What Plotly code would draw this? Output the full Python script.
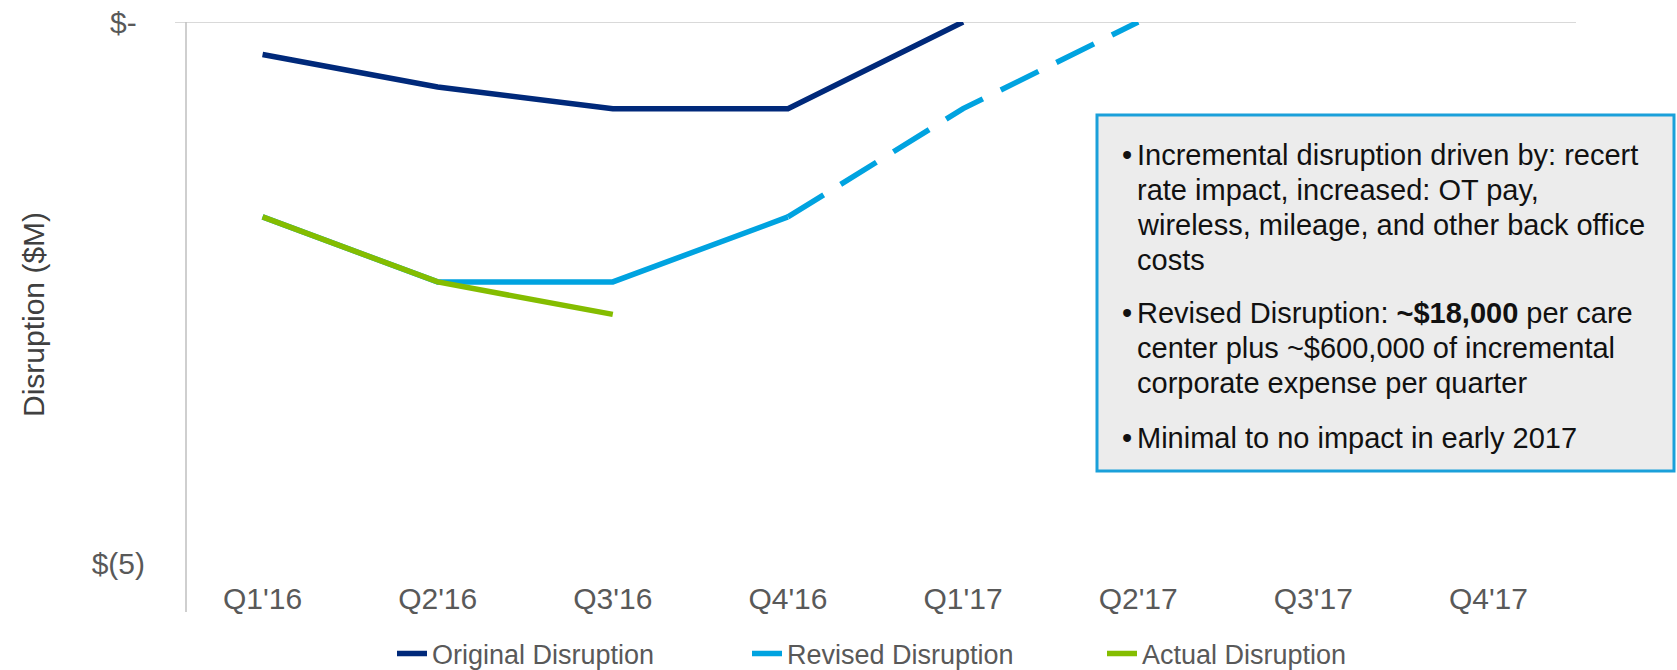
import plotly.graph_objects as go

# ---- data ----
categories = ["Q1'16", "Q2'16", "Q3'16", "Q4'16", "Q1'17", "Q2'17", "Q3'17", "Q4'17"]
original = [-0.3, -0.6, -0.8, -0.8, 0.0, None, None, None]
revised = [-1.8, -2.4, -2.4, -1.8, -0.8, 0.0, None, None]
actual = [-1.8, -2.4, -2.7, None, None, None, None, None]
revised_solid_end = 3  # Q4'16: revised line is solid up to here, dashed after
y_tick_vals = [0, -5]
y_tick_text = ["$-\u00a0", "$(5)"]

box_lines = [
    ["Incremental disruption driven by: recert", "rate impact, increased: OT pay,",
     "wireless, mileage, and other back office", "costs"],
    ["Revised Disruption: <b>~$18,000</b> per care", "center plus ~$600,000 of incremental",
     "corporate expense per quarter"],
    ["Minimal to no impact in early 2017"],
]

FONT = "Liberation Sans, Arial, sans-serif"
NAVY = "#00297A"
BLUE = "#00A3E0"
GREEN = "#84BD00"

W, H = 1677, 670
L, R, T, B = 175, 101, 22, 98
PW, PH = W - L - R, H - T - B
PX_PER_UNIT = 108.3


def px_x(px):
    return (px - L) / PW


def px_y(py):
    return (H - B - py) / PH


fig = go.Figure()
fig.add_trace(go.Scatter(x=categories, y=original, mode="lines", name="Original Disruption",
                         line=dict(color=NAVY, width=5.5), connectgaps=False))
fig.add_trace(go.Scatter(x=categories[:revised_solid_end + 1], y=revised[:revised_solid_end + 1],
                         mode="lines", name="Revised Disruption", legendgroup="rev",
                         showlegend=False, line=dict(color=BLUE, width=5.5)))
fig.add_trace(go.Scatter(x=categories[revised_solid_end:], y=revised[revised_solid_end:],
                         mode="lines", name="Revised Disruption", legendgroup="rev",
                         line=dict(color=BLUE, width=5.5, dash="42px,20px")))
fig.add_trace(go.Scatter(x=categories, y=actual, mode="lines", name="Actual Disruption",
                         line=dict(color=GREEN, width=5.5)))

shapes = [
    # horizontal axis line at $0
    dict(type="line", xref="paper", yref="y", x0=0, x1=1, y0=0, y1=0,
         line=dict(color="#D9D9D9", width=2), layer="below"),
    # vertical axis line
    dict(type="line", xref="paper", yref="paper", x0=px_x(186), x1=px_x(186),
         y0=px_y(612), y1=1, line=dict(color="#BFBFBF", width=1.5), layer="below"),
    # annotation box
    dict(type="rect", xref="paper", yref="paper", x0=px_x(1097), x1=px_x(1674),
         y0=px_y(471), y1=px_y(115), fillcolor="#ECECEC",
         line=dict(color="#1AA0DA", width=3), layer="above"),
]

annotations = [
    dict(text="Disruption ($M)", xref="paper", yref="paper", x=px_x(33), y=px_y(315),
         textangle=-90, showarrow=False, font=dict(family=FONT, size=30, color="#404040"),
         xanchor="center", yanchor="middle"),
]

line_y = [[155, 190, 225, 260], [313, 348, 383], [438]]
for para, ys in zip(box_lines, line_y):
    annotations.append(dict(text="•", xref="paper", yref="paper", x=px_x(1120), y=px_y(ys[0]),
                            showarrow=False, xanchor="left", yanchor="middle",
                            font=dict(family=FONT, size=29, color="#111111")))
    for txt, yy in zip(para, ys):
        annotations.append(dict(text=txt, xref="paper", yref="paper", x=px_x(1135), y=px_y(yy),
                                showarrow=False, xanchor="left", yanchor="middle",
                                font=dict(family=FONT, size=29, color="#111111")))

fig.update_layout(
    width=W, height=H,
    margin=dict(l=L, r=R, t=T, b=B, pad=0, autoexpand=False),
    paper_bgcolor="white", plot_bgcolor="white",
    font=dict(family=FONT, color="#595959"),
    showlegend=True,
    legend=dict(orientation="h", x=px_x(392), y=px_y(654), xanchor="left", yanchor="middle",
                font=dict(family=FONT, size=27, color="#595959"),
                entrywidth=310, entrywidthmode="pixels", bgcolor="rgba(0,0,0,0)"),
    xaxis=dict(type="category", categoryorder="array", categoryarray=categories,
               range=[-0.5, 7.5], showgrid=False, zeroline=False, showline=False,
               ticks="", tickfont=dict(family=FONT, size=30, color="#595959"),
               ticklabelstandoff=6, fixedrange=True, automargin=False),
    yaxis=dict(range=[-PH / PX_PER_UNIT, 0], tickvals=y_tick_vals, ticktext=y_tick_text,
               showgrid=False, zeroline=False, showline=False, ticks="",
               tickfont=dict(family=FONT, size=30, color="#595959"),
               ticklabelstandoff=29, fixedrange=True, automargin=False),
    shapes=shapes,
    annotations=annotations,
)

fig.write_html("out.html")
